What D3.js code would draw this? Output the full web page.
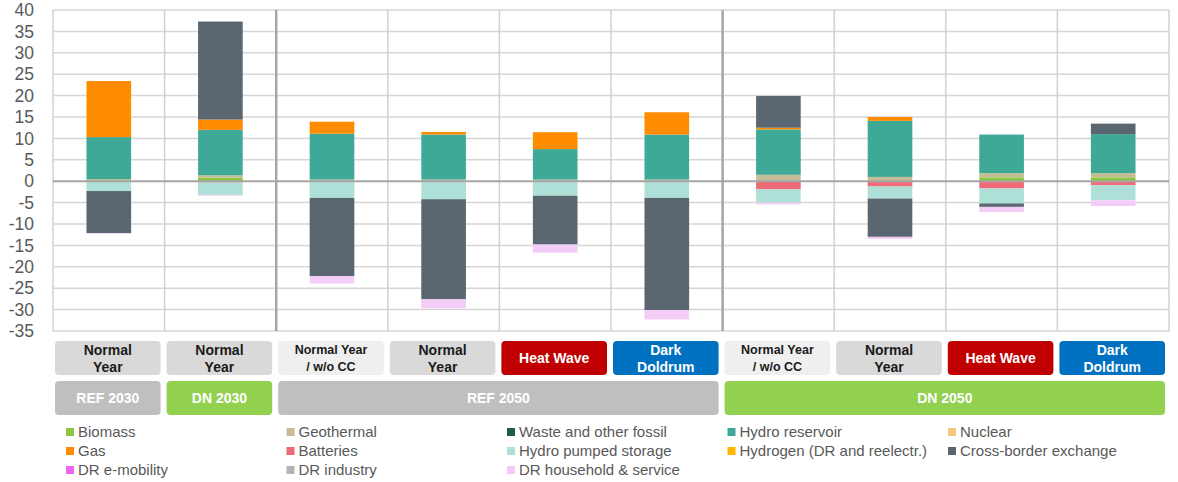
<!DOCTYPE html>
<html lang="en">
<head>
<meta charset="UTF-8">
<title>Flexibility by scenario</title>
<script src="https://d3js.org/d3.v7.min.js"></script>
<style>
  body { margin: 0; background: #fff; }
  svg { font-family: "Liberation Sans", Arial, sans-serif; }
</style>
</head>
<body>
<div id="chart"></div>
<script>
// categories (one per bar)
var categories = ["c1", "c2", "c3", "c4", "c5", "c6", "c7", "c8", "c9", "c10"];
var caseLabels = ["Normal|Year", "Normal|Year", "Normal Year|/ w/o CC", "Normal|Year", "Heat Wave",
                  "Dark|Doldrum", "Normal Year|/ w/o CC", "Normal|Year", "Heat Wave", "Dark|Doldrum"];
var caseTypes = ["normal", "normal", "nocc", "normal", "heat", "dark", "nocc", "normal", "heat", "dark"];
var groupLabels = ["REF 2030", "DN 2030", "REF 2050", "DN 2050"];
var groupStart = [0, 1, 2, 6];
var groupEnd = [0, 1, 5, 9];
var groupTypes = ["ref", "dn", "ref", "dn"];
var yTicks = [40, 35, 30, 25, 20, 15, 10, 5, 0, -5, -10, -15, -20, -25, -30, -35];

// series values (GW)
var seriesNames = ["Biomass", "Geothermal", "Waste and other fossil", "Hydro reservoir", "Nuclear",
                   "Gas", "Batteries", "Hydro pumped storage", "Hydrogen (DR and reelectr.)", "Cross-border exchange",
                   "DR e-mobility", "DR industry", "DR household & service"];
var biomass     = [0.2, 0.8, 0, 0, 0, 0, 0.2, 0.2, 0.9, 0.9];
var geothermal  = [0.3, 0.6, 0.4, 0.4, 0.4, 0.4, 1.3, 0.8, 1.0, 1.0];
var waste       = [0, 0, 0, 0, 0, 0, 0, 0, 0, 0];
var hydroRes    = [9.8, 10.6, 10.7, 10.5, 7.1, 10.5, 10.6, 13.1, 9.0, 9.1];
var nuclear     = [0, 0, 0, 0, 0, 0, 0, 0, 0, 0];
var gas         = [13.1, 2.4, 2.8, 0.6, 3.95, 5.2, 0.4, 0.9, 0, 0];
var batteries   = [0, -0.3, 0, 0, 0, 0, -1.9, -1.25, -1.7, -0.95];
var hydroPump   = [-2.3, -2.9, -3.9, -4.2, -3.4, -3.9, -3.1, -2.8, -3.5, -3.5];
var hydrogen    = [0, 0, 0, 0, 0, 0, 0, 0, 0, 0];
var crossBorder = [-9.8, 22.9, -18.3, -23.4, -11.4, -26.2, 7.4, -8.95, -0.8, 2.45];
var drMobility  = [0, 0, 0, 0, 0, 0, 0, 0, 0, 0];
var drIndustry  = [0, 0, 0, 0, 0, 0, 0, 0, 0, 0];
var drHousehold = [-0.2, -0.2, -1.7, -2.1, -1.9, -2.2, -0.4, -0.5, -1.2, -1.35];

var seriesValues = [biomass, geothermal, waste, hydroRes, nuclear, gas, batteries, hydroPump,
                    hydrogen, crossBorder, drMobility, drIndustry, drHousehold];
var seriesColors = ["#8cc63f", "#c4bd97", "#1e5c4a", "#3ea996", "#f6c77c", "#ff8c00", "#ef6b78",
                    "#aee0d8", "#ffb400", "#5b6770", "#ee66ee", "#b4b4b4", "#f3cdf8"];

var W = 1178, H = 482;
var plot = {left: 53, right: 1169, top: 10, bottom: 331};

var svg = d3.select("#chart").append("svg")
    .attr("width", W)
    .attr("height", H);

var x = d3.scaleBand()
    .domain(categories)
    .range([plot.left, plot.right])
    .padding(0);

var y = d3.scaleLinear()
    .domain([-35, 40])
    .range([plot.bottom, plot.top]);

// table for the stack
var table = categories.map(function(c, i) {
    var row = {cat: c};
    seriesNames.forEach(function(s, k) { row[s] = seriesValues[k][i]; });
    return row;
});

// horizontal grid
svg.append("g")
  .selectAll("line")
  .data(yTicks.filter(function(d) { return d !== 0; }))
  .enter().append("line")
    .attr("x1", plot.left).attr("x2", plot.right)
    .attr("y1", function(d) { return y(d); })
    .attr("y2", function(d) { return y(d); })
    .style("stroke", "#d6d6d6")
    .style("stroke-width", 1.5);

// vertical grid (category borders)
var borders = d3.range(categories.length + 1);
svg.append("g")
  .selectAll("line")
  .data(borders)
  .enter().append("line")
    .attr("x1", function(i) { return plot.left + i * x.bandwidth(); })
    .attr("x2", function(i) { return plot.left + i * x.bandwidth(); })
    .attr("y1", plot.top).attr("y2", plot.bottom)
    .style("stroke", function(i) { return (i === 2 || i === 6) ? "#a6a6a6" : "#d0d0d0"; })
    .style("stroke-width", function(i) { return (i === 2 || i === 6) ? 2.5 : 1.5; });

// y tick labels
svg.append("g")
  .selectAll("text")
  .data(yTicks)
  .enter().append("text")
    .attr("x", 34)
    .attr("y", function(d) { return y(d); })
    .attr("dy", "0.35em")
    .attr("text-anchor", "end")
    .style("font-size", "17.5px")
    .style("fill", "#595959")
    .text(function(d) { return d; });

// stacked bars
var stack = d3.stack()
    .keys(seriesNames)
    .offset(d3.stackOffsetDiverging);
var stacked = stack(table);
var barW = x.bandwidth() * 0.4;

svg.append("g")
  .selectAll("g")
  .data(stacked)
  .enter().append("g")
    .style("fill", function(d, k) { return seriesColors[k]; })
  .selectAll("rect")
  .data(function(d) { return d.filter(function(p) { return p[1] - p[0] !== 0; }); })
  .enter().append("rect")
    .attr("x", function(p) { return x(p.data.cat) + (x.bandwidth() - barW) / 2; })
    .attr("width", barW)
    .attr("y", function(p) { return y(p[1]); })
    .attr("height", function(p) { return y(p[0]) - y(p[1]); });

// zero line
svg.append("line")
    .attr("x1", plot.left).attr("x2", plot.right)
    .attr("y1", y(0)).attr("y2", y(0))
    .style("stroke", "#a6a6a6")
    .style("stroke-width", 2);

// case boxes (first row)
var caseFill = {normal: "#d9d9d9", nocc: "#efefef", heat: "#c00000", dark: "#0070c0"};
var caseText = {normal: "#1a1a1a", nocc: "#1a1a1a", heat: "#ffffff", dark: "#ffffff"};
var cases = svg.append("g")
  .selectAll("g")
  .data(categories)
  .enter().append("g");

cases.append("rect")
    .attr("x", function(c) { return x(c) + 2; })
    .attr("y", 341)
    .attr("width", x.bandwidth() - 6)
    .attr("height", 34)
    .attr("rx", 4)
    .style("fill", function(c, i) { return caseFill[caseTypes[i]]; });

cases.each(function(c, i) {
    var lines = caseLabels[i].split("|");
    var small = caseTypes[i] === "nocc";
    var cx = x(c) + 2 + (x.bandwidth() - 6) / 2;
    var t = d3.select(this).append("text")
        .attr("text-anchor", "middle")
        .style("font-weight", "bold")
        .style("font-size", small ? "12.5px" : "14px")
        .style("fill", caseText[caseTypes[i]]);
    lines.forEach(function(l, j) {
        var yy = lines.length === 1 ? 358 : (j === 0 ? 350 : 367);
        t.append("tspan")
            .attr("x", cx)
            .attr("y", yy)
            .attr("dy", "0.35em")
            .text(l);
    });
});

// scenario boxes (second row)
var groupFill = {ref: "#bfbfbf", dn: "#92d050"};
var groups = svg.append("g")
  .selectAll("g")
  .data(groupLabels)
  .enter().append("g");

groups.append("rect")
    .attr("x", function(g, i) { return x(categories[groupStart[i]]) + 2; })
    .attr("y", 381)
    .attr("width", function(g, i) {
        return x(categories[groupEnd[i]]) + x.bandwidth() - x(categories[groupStart[i]]) - 6;
    })
    .attr("height", 34)
    .attr("rx", 4)
    .style("fill", function(g, i) { return groupFill[groupTypes[i]]; });

groups.append("text")
    .attr("x", function(g, i) {
        return (x(categories[groupStart[i]]) + x(categories[groupEnd[i]]) + x.bandwidth()) / 2 - 1;
    })
    .attr("y", 398)
    .attr("dy", "0.35em")
    .attr("text-anchor", "middle")
    .style("font-weight", "bold")
    .style("font-size", "14px")
    .style("fill", "#ffffff")
    .text(function(g) { return g; });

// legend, 5 columns
var legend = svg.append("g")
  .selectAll("g")
  .data(seriesNames)
  .enter().append("g")
    .attr("transform", function(d, i) {
        return "translate(" + (66 + (i % 5) * 220.5) + "," + (432 + Math.floor(i / 5) * 19) + ")";
    });

legend.append("rect")
    .attr("x", 0)
    .attr("y", -4)
    .attr("width", 8)
    .attr("height", 8)
    .style("fill", function(d, i) { return seriesColors[i]; });

legend.append("text")
    .attr("x", 12)
    .attr("y", 0)
    .attr("dy", "0.35em")
    .style("font-size", "15px")
    .style("fill", "#595959")
    .text(function(d) { return d; });
</script>
</body>
</html>
